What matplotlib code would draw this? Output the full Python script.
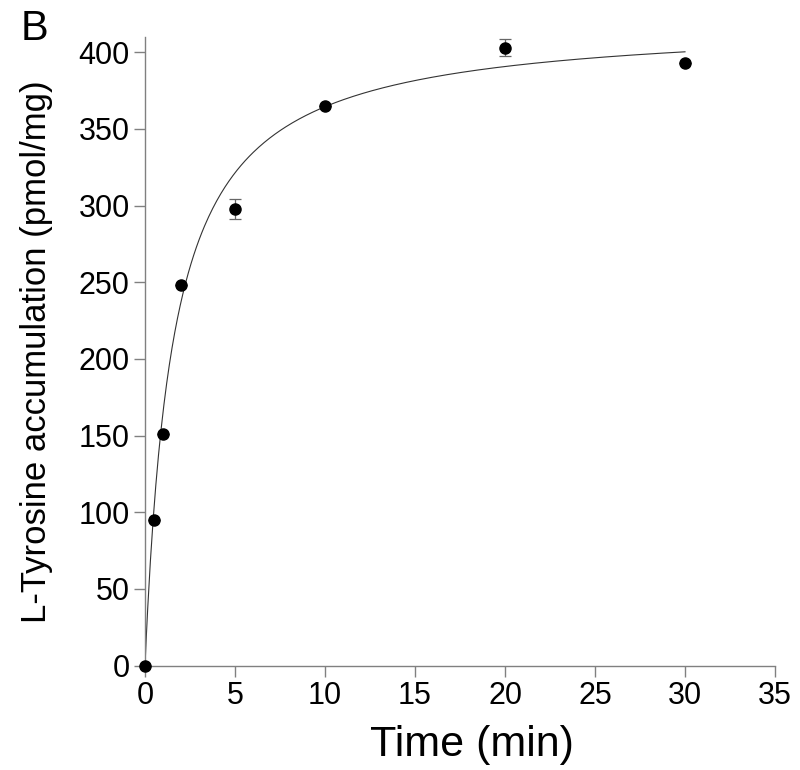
import matplotlib
matplotlib.use("Agg")
import matplotlib.pyplot as plt
import numpy as np

plt.rcParams["font.family"] = ["Liberation Sans", "DejaVu Sans"]

# measured points
time_min = [0, 0.5, 1, 2, 5, 10, 20, 30]
tyr_acc = [0, 95, 151, 248, 298, 365, 403, 393]
tyr_err = [0, 0, 0, 0, 6.5, 0, 5.6, 0]

# hyperbolic fit (Vmax, Km)
vmax = 421.0
km = 1.55

x_ticks = [0, 5, 10, 15, 20, 25, 30, 35]
y_ticks = [0, 50, 100, 150, 200, 250, 300, 350, 400]

fig = plt.figure(figsize=(8, 7.7), dpi=100)
ax = fig.add_axes([0.18125, 0.1357, 0.7875, 0.8163])

t_fit = np.linspace(0, 30, 400)
ax.plot(t_fit, vmax * t_fit / (km + t_fit), color="#333333", lw=0.8, zorder=2)

ax.errorbar(time_min, tyr_acc, yerr=tyr_err, fmt="o", color="black",
            ms=8, ecolor="#666666", elinewidth=0.9, capsize=4, capthick=0.9,
            zorder=3, clip_on=False)

ax.set_xlim(0, 35)
ax.set_ylim(0, 410)
ax.set_xticks(x_ticks)
ax.set_yticks(y_ticks)

for s in ("top", "right"):
    ax.spines[s].set_visible(False)
for s in ("left", "bottom"):
    ax.spines[s].set_color("#808080")
    ax.spines[s].set_linewidth(1.0)

ax.tick_params(direction="out", length=8, width=1.0, color="#808080",
               labelsize=22, pad=3)

ax.set_xlabel("Time (min)", fontsize=31)
ax.xaxis.set_label_coords(0.519, -0.094, transform=ax.transAxes)
ax.xaxis.label.set_va("top")
ax.set_ylabel("L-Tyrosine accumulation (pmol/mg)", fontsize=25, labelpad=18)

fig.text(0.026, 0.988, "B", fontsize=30, va="top", ha="left")

fig.savefig("out.png", dpi=100)
